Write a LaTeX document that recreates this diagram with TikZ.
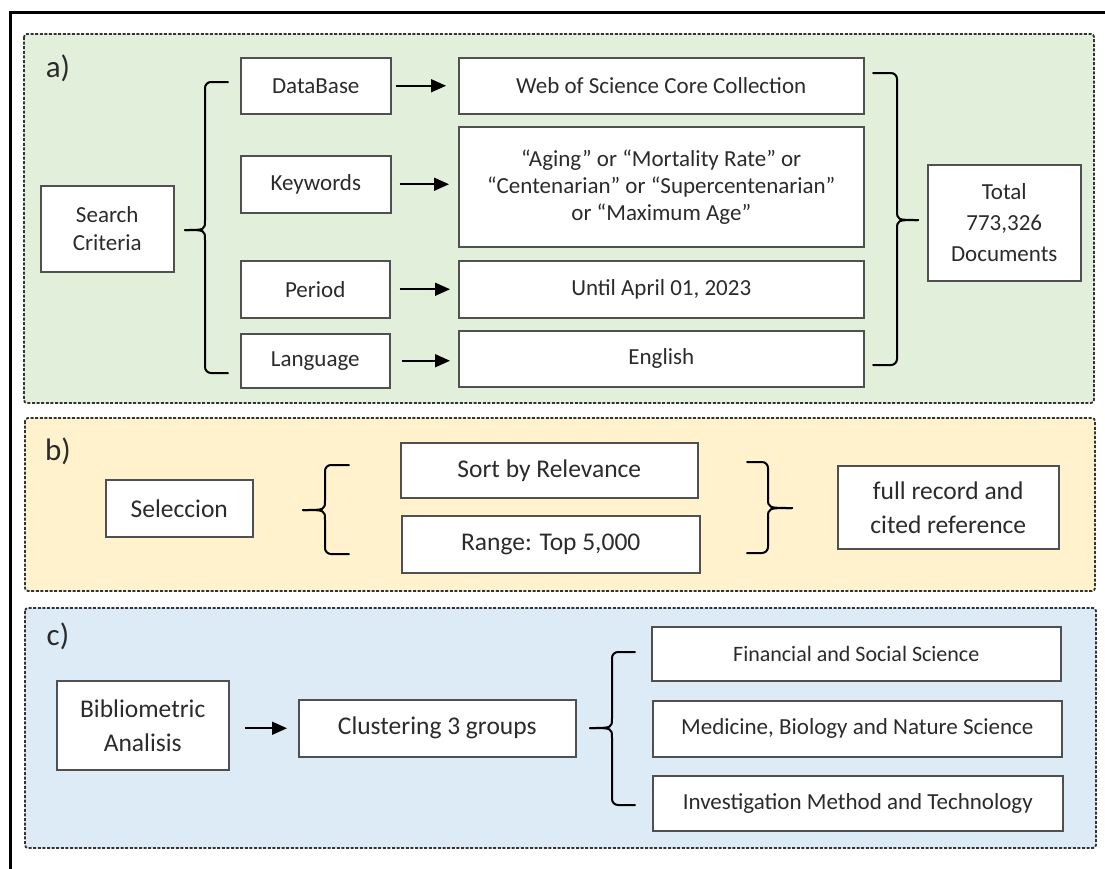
\documentclass[tikz,border=0pt]{standalone}
\usepackage{fontspec}
\setmainfont{Carlito}
\usetikzlibrary{arrows.meta}
\definecolor{pga}{HTML}{E2EFDA}
\definecolor{pgb}{HTML}{FFF2CC}
\definecolor{pgc}{HTML}{DDEBF7}
\definecolor{txt}{HTML}{2B2B2B}
\definecolor{bord}{HTML}{505050}
\newcommand{\BraceL}[6]{% arm x, vertical x, top y, bottom y, tip x, tip y
  \draw[brc,rounded corners=6pt] (#1,#3) -- (#2,#3) -- (#2,{#6-10});
  \draw[brc,rounded corners=6pt] (#1,#4) -- (#2,#4) -- (#2,{#6+10});
  \draw[brc] (#2,{#6-10}) .. controls (#2,#6) .. (#5,#6);
  \draw[brc] (#2,{#6+10}) .. controls (#2,#6) .. (#5,#6);
}
\begin{document}
\begin{tikzpicture}[x=1pt,y=-1pt,
  box/.style={draw=bord, line width=1.5pt, fill=white, anchor=north west, inner sep=0pt,
    align=center, text=txt, font=\fontsize{23}{27}\selectfont},
  bigtext/.style={font=\fontsize{25.5}{34}\selectfont},
  panel/.style={draw=black!80, line width=1.8pt, dash pattern=on 3pt off 1.6pt, rounded corners=3pt},
  arr/.style={line width=1.6pt, -{Triangle[length=15pt,width=13pt]}},
  brc/.style={line width=2pt, line cap=round, line join=round},
  lab/.style={text=txt, font=\fontsize{31}{36}\selectfont, inner sep=0pt}]
\useasboundingbox (0,0) rectangle (1105,868);
\fill[white] (0,0) rectangle (1105,868);
\draw[line width=3pt] (10,872) -- (10,12) -- (1109,12);

% panels
\filldraw[panel, fill=pga] (24,34) rectangle (1094,403);
\filldraw[panel, fill=pgb] (25,418) rectangle (1095,591);
\filldraw[panel, fill=pgc] (25,608) rectangle (1096,848);

\node[lab] (la) at (58,68) {a)};
\node[lab] (lb) at (58,451) {b)};
\node[lab] (lc) at (58,636) {c)};

% panel a
\node[box, minimum width=133pt, minimum height=86pt, font=\fontsize{23}{28}\selectfont] (sc) at (40,185) {Search\\Criteria};
\node[box, minimum width=150pt, minimum height=56pt] (db) at (240,57) {DataBase};
\node[box, minimum width=150pt, minimum height=57pt] (kw) at (240,155) {Keywords};
\node[box, minimum width=149pt, minimum height=57pt] (pe) at (240,260) {Period};
\node[box, minimum width=149pt, minimum height=54pt] (lg) at (240,333) {Language};
\node[box, minimum width=405pt, minimum height=56pt] (wos) at (458,57) {Web of Science Core Collection};
\node[box, minimum width=405pt, minimum height=120pt] (kwt) at (458,126) {“Aging” or “Mortality Rate” or\\“Centenarian” or “Supercentenarian”\\or “Maximum Age”};
\node[box, minimum width=405pt, minimum height=57pt] (unt) at (458,260) {Until April 01, 2023};
\node[box, minimum width=405pt, minimum height=56pt] (eng) at (458,330) {English};
\node[box, minimum width=153pt, minimum height=116pt, font=\fontsize{23}{31}\selectfont] (tot) at (927,164) {Total\\773,326\\Documents};

\draw[arr, shorten <=4pt, shorten >=12pt] (db.east) -- (db.east -| wos.west);
\draw[arr, shorten <=8pt, shorten >=9pt] (kw.east) -- (kw.east -| kwt.west);
\draw[arr, shorten <=9pt, shorten >=8pt] (pe.east) -- (pe.east -| unt.west);
\draw[arr, shorten <=11pt, shorten >=8pt] (lg.east) -- (lg.east -| eng.west);

\BraceL{228}{205}{82}{373}{185}{230}
\BraceL{873}{897}{73}{365}{918}{220}

% panel b
\node[box, bigtext, minimum width=147pt, minimum height=57pt] (sel) at (105,479) {Seleccion};
\node[box, bigtext, minimum width=297pt, minimum height=55pt] (sort) at (400,442) {Sort by Relevance};
\node[box, bigtext, minimum width=298pt, minimum height=57pt] (rng) at (401,515) {Range: Top 5,000};
\node[box, bigtext, minimum width=221pt, minimum height=83pt] (full) at (837,465) {full record and\\cited reference};
\BraceL{349}{325}{465}{554}{303}{510}
\BraceL{747}{768}{462}{553}{792}{508}

% panel c
\node[box, bigtext, minimum width=172pt, minimum height=89pt] (bib) at (56,680) {Bibliometric\\Analisis};
\node[box, bigtext, minimum width=277pt, minimum height=57pt] (clu) at (298,699) {Clustering 3 groups};
\node[box, minimum width=409pt, minimum height=54pt, font=\fontsize{22}{26}\selectfont] (fin) at (651,626) {Financial and Social Science};
\node[box, minimum width=409pt, minimum height=56pt] (med) at (652,700) {Medicine, Biology and Nature Science};
\node[box, minimum width=410pt, minimum height=55pt] (inv) at (652,775) {Investigation Method and Technology};
\draw[arr, shorten <=15pt, shorten >=11pt] (bib.east |- clu.west) -- (clu.west);
\BraceL{635}{612}{652}{805}{590}{728}
\end{tikzpicture}
\end{document}
